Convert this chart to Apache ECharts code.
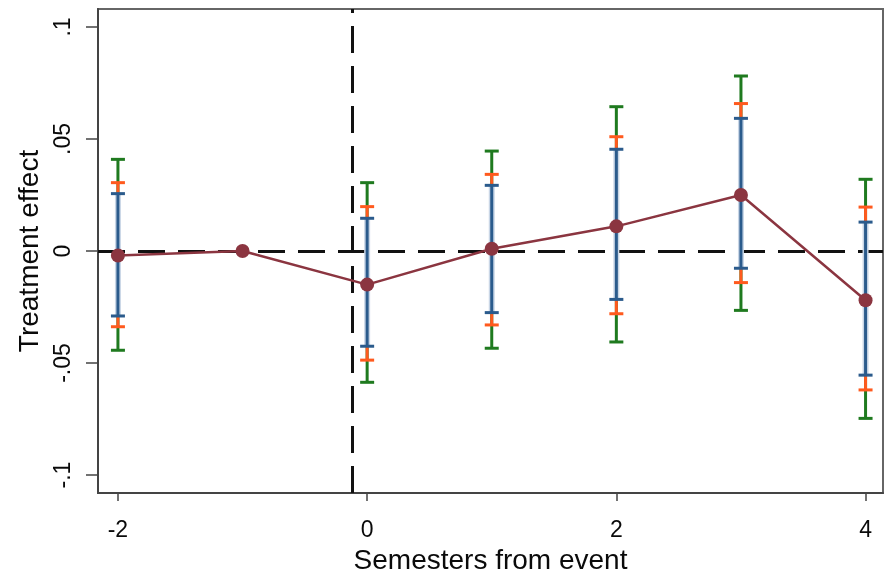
<!DOCTYPE html>
<html>
<head>
<meta charset="utf-8">
<script src="https://cdn.jsdelivr.net/npm/echarts@6/dist/echarts.min.js"></script>
<style>html,body{margin:0;padding:0;background:#fff;}#c{width:896px;height:575px;}</style>
</head>
<body>
<div id="c"></div>
<script>
// ---- data ----
var periods = [-2, -1, 0, 1, 2, 3, 4];
var estimates = [-0.002, 0.000, -0.015, 0.001, 0.011, 0.025, -0.022];
// CI bounds (null where no interval, i.e. reference period -1)
var ciLowNarrow  = [-0.029, null, -0.0425, -0.0275, -0.0216, -0.0077, -0.0554];
var ciHighNarrow = [ 0.0256, null,  0.0146,  0.0293,  0.0454,  0.0592,  0.0129];
var ciLowMid     = [-0.0338, null, -0.0487, -0.033, -0.028, -0.0141, -0.062];
var ciHighMid    = [ 0.0305, null,  0.0198,  0.0342,  0.051,  0.0658,  0.0196];
var ciLowWide    = [-0.0443, null, -0.0586, -0.0434, -0.0406, -0.0265, -0.0747];
var ciHighWide   = [ 0.0409, null,  0.0305,  0.0446,  0.0644,  0.0781,  0.032];
var xTicks = [-2, 0, 2, 4];
var yTicks = [-0.1, -0.05, 0, 0.05, 0.1];
var eventLineX = -0.12;

function ciData(lo, hi) {
  var out = [];
  for (var i = 0; i < periods.length; i++) {
    if (lo[i] !== null && hi[i] !== null) out.push([periods[i], lo[i], hi[i]]);
  }
  return out;
}
function makeCI(name, lo, hi, color, z, halo) {
  return {
    type: 'custom', name: name, z: z,
    data: ciData(lo, hi),
    encode: { x: 0, y: [1, 2] },
    renderItem: function (params, api) {
      var x = api.value(0);
      var a = api.coord([x, api.value(1)]);
      var b = api.coord([x, api.value(2)]);
      var hw = 7;
      var children = [];
      if (halo) {
        children.push({ type: 'line', shape: { x1: a[0], y1: a[1], x2: b[0], y2: b[1] }, style: { stroke: halo, lineWidth: 6 } });
      }
      children.push({ type: 'line', shape: { x1: a[0], y1: a[1], x2: b[0], y2: b[1] }, style: { stroke: color, lineWidth: 3 } });
      children.push({ type: 'line', shape: { x1: a[0] - hw, y1: a[1], x2: a[0] + hw, y2: a[1] }, style: { stroke: color, lineWidth: 3 } });
      children.push({ type: 'line', shape: { x1: b[0] - hw, y1: b[1], x2: b[0] + hw, y2: b[1] }, style: { stroke: color, lineWidth: 3 } });
      return { type: 'group', children: children };
    }
  };
}
function fmtY(v) {
  if (Math.abs(v) < 1e-9) return '0';
  var s = String(Math.round(v * 1000) / 1000);
  return s.replace('0.', '.');
}

var chart = echarts.init(document.getElementById('c'), null, { renderer: 'canvas' });
var font = 'Liberation Sans, Arial, sans-serif';
chart.setOption({
  animation: false,
  backgroundColor: '#fff',
  grid: { left: 98, top: 9, right: 13, bottom: 82, outerBoundsMode: 'none', containLabel: false, show: true, borderColor: '#666', borderWidth: 2, backgroundColor: 'transparent' },
  xAxis: {
    type: 'value', min: -2.16, max: 4.14,
    name: 'Semesters from event', nameLocation: 'middle', nameGap: 50,
    nameTextStyle: { fontFamily: font, fontSize: 28, color: '#0a0a0a' },
    axisLine: { show: true, onZero: false, lineStyle: { color: '#444', width: 2 } },
    axisTick: { show: true, length: 8, customValues: xTicks, lineStyle: { color: '#444', width: 1.5 } },
    axisLabel: { customValues: xTicks, margin: 26, fontFamily: font, fontSize: 23, color: '#0a0a0a' },
    splitLine: { show: false }
  },
  yAxis: {
    type: 'value', min: -0.108, max: 0.108,
    name: 'Treatment effect', nameLocation: 'middle', nameGap: 51,
    nameTextStyle: { fontFamily: font, fontSize: 28, color: '#0a0a0a' },
    axisLine: { show: true, onZero: false, lineStyle: { color: '#444', width: 2 } },
    axisTick: { show: true, length: 12, customValues: yTicks, lineStyle: { color: '#444', width: 1.5 } },
    axisLabel: { customValues: yTicks, rotate: 90, margin: 23, fontFamily: font, fontSize: 23, color: '#0a0a0a', formatter: fmtY },
    splitLine: { show: false }
  },
  series: [
    {
      type: 'line', name: 'ref', data: [], z: 1, silent: true,
      markLine: {
        symbol: 'none', silent: true, label: { show: false },
        lineStyle: { color: '#111', width: 3, type: [27, 13] },
        data: [{ yAxis: 0 }, { xAxis: eventLineX }]
      }
    },
    makeCI('wide', ciLowWide, ciHighWide, '#1f7a1f', 3, null),
    makeCI('mid', ciLowMid, ciHighMid, '#ff5a1e', 4, null),
    makeCI('narrow', ciLowNarrow, ciHighNarrow, '#2b5b8c', 5, '#c9d6e6'),
    {
      type: 'line', name: 'est', z: 6,
      data: periods.map(function (p, i) { return [p, estimates[i]]; }),
      symbol: 'circle', symbolSize: 14,
      itemStyle: { color: '#8b3540' },
      lineStyle: { color: '#8b3540', width: 2.5 }
    }
  ]
});
</script>
</body>
</html>
